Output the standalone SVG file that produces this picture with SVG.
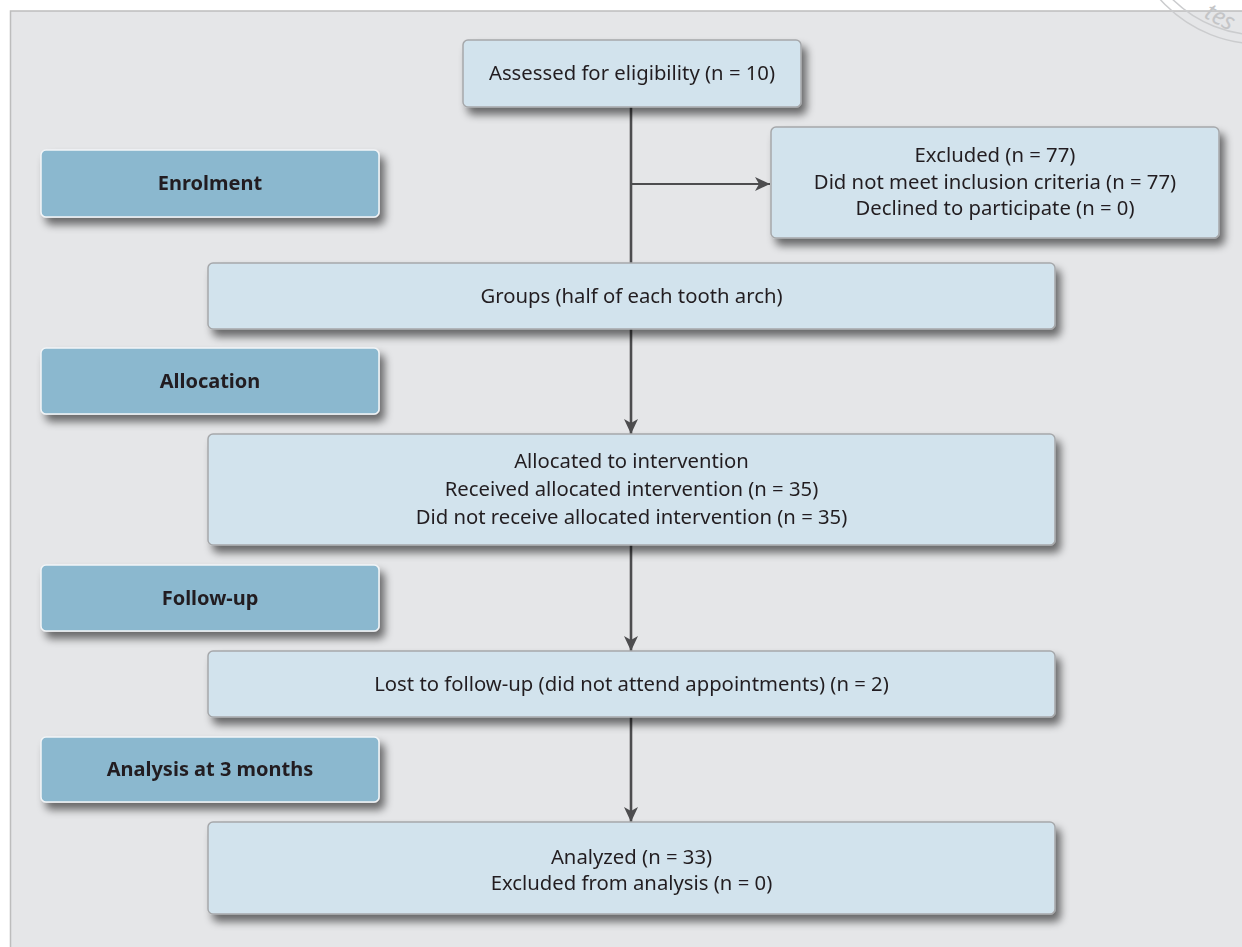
<svg xmlns="http://www.w3.org/2000/svg" width="1242" height="947" viewBox="0 0 1242 947">
<defs>
<filter id="sh" x="-10%" y="-30%" width="125%" height="170%">
<feGaussianBlur in="SourceAlpha" stdDeviation="4.5"/>
<feOffset dx="5" dy="7" result="b"/>
<feComponentTransfer><feFuncA type="linear" slope="0.55"/></feComponentTransfer>
<feMerge><feMergeNode/><feMergeNode in="SourceGraphic"/></feMerge>
</filter>
<marker id="ah" markerWidth="16" markerHeight="14" refX="15" refY="7" orient="auto" markerUnits="userSpaceOnUse">
<path d="M0,0 L15,7 L0,14 L4,7 Z" fill="#4d4d4f"/>
</marker>
<style>
.panel{fill:#e5e6e8;stroke:#bdbdbd;stroke-width:1.5}
.box{fill:#d2e3ed;stroke:#a6a8ab;stroke-width:1.5}
.lab{fill:#8bb8cf;stroke:#f2f5f7;stroke-width:1.5}
.t{font-family:"Noto Sans","Open Sans",sans-serif;font-size:20.3px;fill:#231f20;text-anchor:middle}
.b{font-family:"Noto Sans","Open Sans",sans-serif;font-size:20px;font-weight:bold;fill:#231f20;text-anchor:middle}
.ln{stroke:#4d4d4f;stroke-width:2.6;fill:none}
.wm{fill:none;stroke:#cbccce;stroke-width:1.5}
</style>
</defs>
<rect x="0" y="0" width="1242" height="947" fill="#ffffff"/>
<rect class="panel" x="10.5" y="11" width="1240" height="950"/>
<g id="watermark">
<circle class="wm" cx="1260" cy="-90" r="125"/>
<circle class="wm" cx="1260" cy="-90" r="134"/>
<text x="1203" y="17" transform="rotate(28 1203 17)" font-family="'Noto Sans',sans-serif" font-size="24" font-style="italic" fill="#c4c5c7">tes</text>
</g>
<g id="connectors">
<line class="ln" x1="631" y1="107" x2="631" y2="263"/>
<line class="ln" x1="631" y1="184" x2="770" y2="184" style="stroke-width:1.8" marker-end="url(#ah)"/>
<line class="ln" x1="631" y1="329" x2="631" y2="434" marker-end="url(#ah)"/>
<line class="ln" x1="631" y1="545" x2="631" y2="651" marker-end="url(#ah)"/>
<line class="ln" x1="631" y1="717" x2="631" y2="822" marker-end="url(#ah)"/>
</g>
<g id="assessed" filter="url(#sh)">
<rect class="box" x="463" y="40" width="338" height="67" rx="5"/>
<text class="t" x="632" y="80">Assessed for eligibility (n = 10)</text>
</g>
<g id="excluded" filter="url(#sh)">
<rect class="box" x="771" y="127" width="448" height="111" rx="5"/>
<text class="t" x="995" y="162">Excluded (n = 77)</text>
<text class="t" x="995" y="189">Did not meet inclusion criteria (n = 77)</text>
<text class="t" x="995" y="215">Declined to participate (n = 0)</text>
</g>
<g id="enrolment" filter="url(#sh)">
<rect class="lab" x="41" y="150" width="338" height="67" rx="5"/>
<text class="b" x="210" y="190">Enrolment</text>
</g>
<g id="groups" filter="url(#sh)">
<rect class="box" x="208" y="263" width="847" height="66" rx="5"/>
<text class="t" x="631.5" y="303">Groups (half of each tooth arch)</text>
</g>
<g id="allocation" filter="url(#sh)">
<rect class="lab" x="41" y="348" width="338" height="66" rx="5"/>
<text class="b" x="210" y="388">Allocation</text>
</g>
<g id="allocated" filter="url(#sh)">
<rect class="box" x="208" y="434" width="847" height="111" rx="5"/>
<text class="t" x="631.5" y="468">Allocated to intervention</text>
<text class="t" x="631.5" y="496">Received allocated intervention (n = 35)</text>
<text class="t" x="631.5" y="524">Did not receive allocated intervention (n = 35)</text>
</g>
<g id="followup" filter="url(#sh)">
<rect class="lab" x="41" y="565" width="338" height="66" rx="5"/>
<text class="b" x="210" y="605">Follow-up</text>
</g>
<g id="lost" filter="url(#sh)">
<rect class="box" x="208" y="651" width="847" height="66" rx="5"/>
<text class="t" x="631.5" y="691">Lost to follow-up (did not attend appointments) (n = 2)</text>
</g>
<g id="analysis" filter="url(#sh)">
<rect class="lab" x="41" y="737" width="338" height="65" rx="5"/>
<text class="b" x="210" y="776">Analysis at 3 months</text>
</g>
<g id="analyzed" filter="url(#sh)">
<rect class="box" x="208" y="822" width="847" height="92" rx="5"/>
<text class="t" x="631.5" y="864">Analyzed (n = 33)</text>
<text class="t" x="631.5" y="890">Excluded from analysis (n = 0)</text>
</g>
</svg>
